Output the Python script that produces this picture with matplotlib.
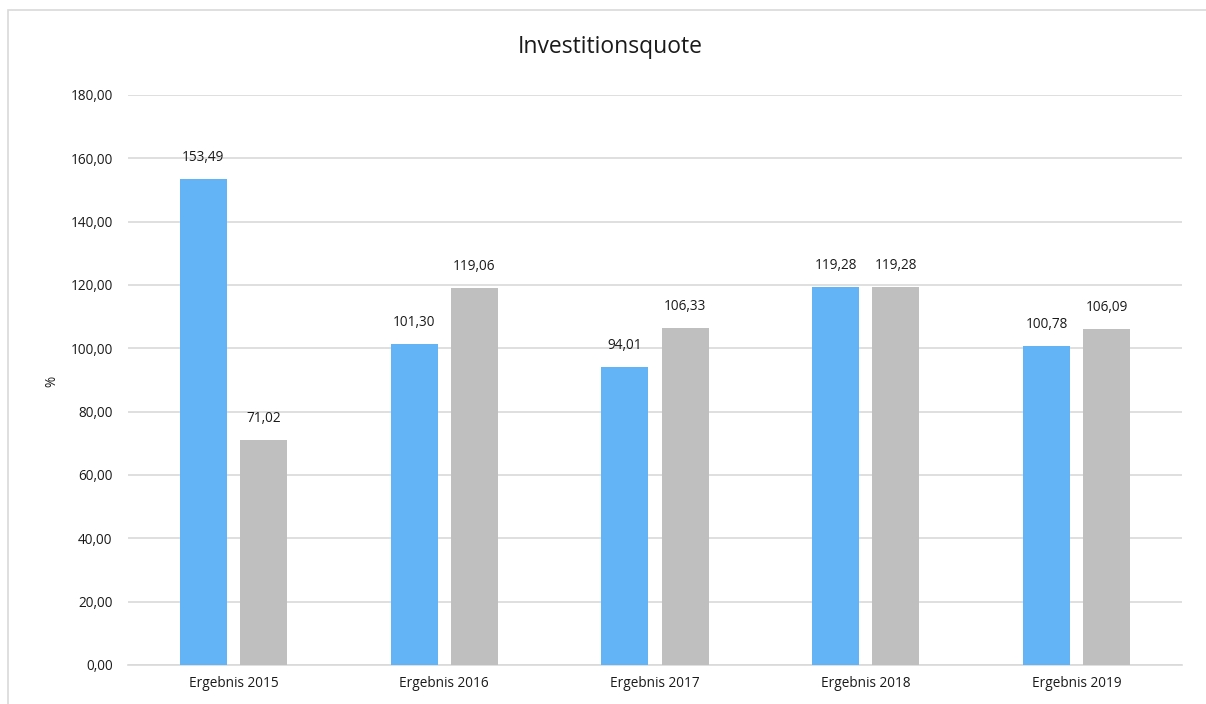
import matplotlib
matplotlib.use("Agg")
import matplotlib.pyplot as plt
import numpy as np
from matplotlib.patches import Rectangle

#%% data
categories = ["Ergebnis 2015", "Ergebnis 2016", "Ergebnis 2017", "Ergebnis 2018", "Ergebnis 2019"]
series_blue = [153.49, 101.30, 94.01, 119.28, 100.78]
series_gray = [71.02, 119.06, 106.33, 119.28, 106.09]
yticks = [0, 20, 40, 60, 80, 100, 120, 140, 160, 180]

def de_fmt(v):
    return f"{v:.2f}".replace(".", ",")

plt.rcParams['font.family'] = ['Open Sans', 'DejaVu Sans']

fig = plt.figure(figsize=(12.06, 7.04), dpi=100)
W, H = 1206, 704
ax = fig.add_axes([128 / W, 1 - 665 / H, (1182 - 128) / W, (665 - 95) / H])

# outer chart frame
fig.patches.append(Rectangle((8 / W, -0.1), 1.2, 1 - 10 / H + 0.1, transform=fig.transFigure,
                             fill=False, edgecolor="#d9d9d9", linewidth=1.2))

x = np.arange(len(categories))
bw = 0.223
off = 0.143
b1 = ax.bar(x - off, series_blue, bw, color="#63b4f6", zorder=3)
b2 = ax.bar(x + off, series_gray, bw, color="#bfbfbf", zorder=3)

for bars, vals in ((b1, series_blue), (b2, series_gray)):
    for rect, v in zip(bars, vals):
        ax.annotate(de_fmt(v), (rect.get_x() + rect.get_width() / 2, v),
                    xytext=(0, 10), textcoords="offset points",
                    ha="center", va="bottom", fontsize=9.8, color="#1a1a1a")

ax.set_xlim(-0.5, len(categories) - 0.5)
ax.set_ylim(0, 180)
ax.set_yticks(yticks)
ax.set_yticklabels([de_fmt(v) for v in yticks])
ax.set_xticks(x)
ax.set_xticklabels(categories)
ax.tick_params(axis="both", length=0, labelsize=9.8, colors="#1a1a1a")
ax.tick_params(axis="y", pad=11)
ax.tick_params(axis="x", pad=8)
ax.grid(axis="y", color="#d9d9d9", linewidth=1.2, zorder=0)
for s in ["top", "right", "left"]:
    ax.spines[s].set_visible(False)
ax.spines["bottom"].set_color("#d9d9d9")
ax.spines["bottom"].set_linewidth(1.2)

fig.text(52 / W, 1 - 381 / H, "%", rotation=90, ha="center", va="center", fontsize=9.8, color="#1a1a1a")
fig.text(610 / W, 1 - 47 / H, "Investitionsquote", ha="center", va="center", fontsize=16.5, color="#1a1a1a")

fig.savefig("out.png", dpi=100)
